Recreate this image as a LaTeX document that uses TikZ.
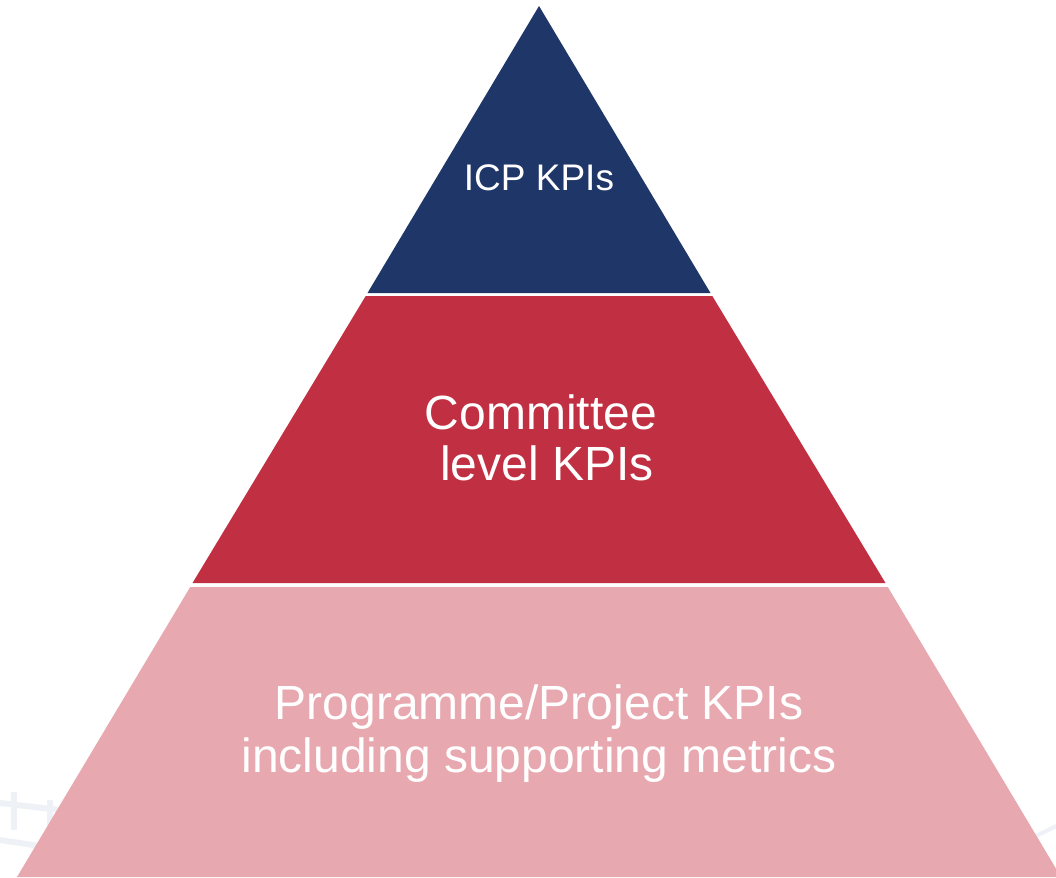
\documentclass[tikz,border=0pt]{standalone}
\usepackage{fontspec}
\setmainfont{Liberation Sans}
\definecolor{navy}{HTML}{1F3768}
\definecolor{kred}{HTML}{C12F42}
\definecolor{kpink}{HTML}{E8A8AF}
\definecolor{faint}{HTML}{EEF1F5}
\begin{document}
\begin{tikzpicture}[x=1pt,y=-1pt,
  lbl/.style={text=white,align=center,inner sep=0pt}]
\useasboundingbox (0,0) rectangle (1056,877);
% faint background remnants
\begin{scope}[faint,line width=6pt]
\draw (0,803) -- (60,810);
\draw (0,840) -- (40,846);
\draw (14,792) -- (14,830);
\draw (50,800) -- (50,840);
\draw[line width=4pt] (1036,836) -- (1056,826);
\end{scope}
\coordinate (A) at (539,6);
\fill[navy] (A) -- (710.5,293) -- (367.5,293) -- cycle;
\fill[kred] (365.7,296) -- (712.3,296) -- (885.5,583) -- (192.5,583) -- cycle;
\fill[kpink] (190.2,587) -- (887.8,587) -- (1061,877) -- (17,877) -- cycle;
\node[lbl,font=\fontsize{37}{40}\selectfont] (t1) at (539,178) {ICP KPIs};
\node[lbl,font=\fontsize{48}{51}\selectfont] (t2) at (541,438) {Committee\\ \hspace*{12pt}level KPIs};
\node[lbl,font=\fontsize{48}{53}\selectfont] (t3) at (539,734) {Programme/Project KPIs\\including supporting metrics};
\end{tikzpicture}
\end{document}
